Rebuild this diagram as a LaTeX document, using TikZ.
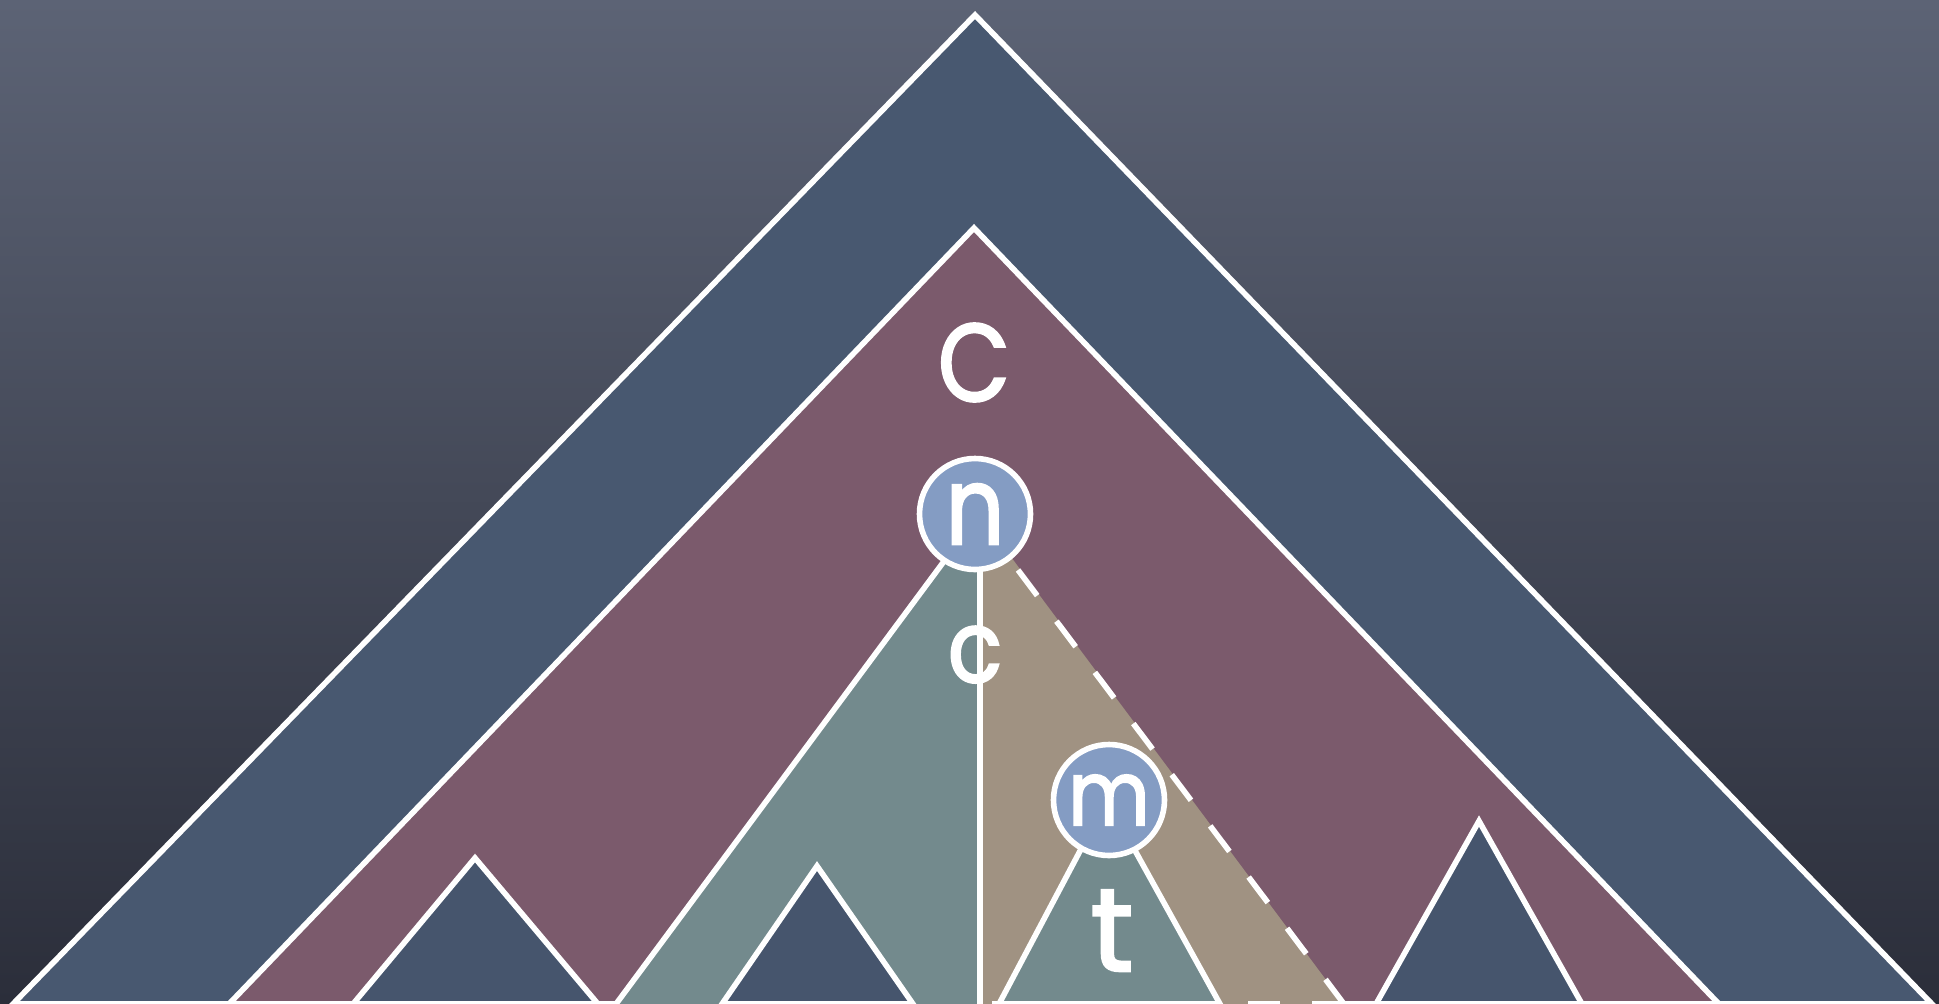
\documentclass[tikz,border=0pt]{standalone}
\usepackage{fontspec}
\setmainfont{Poppins}
\newfontfamily\chalk{Poppins}[FakeBold=2.2]
\definecolor{bgtop}{HTML}{5C6375}
\definecolor{bgmid}{HTML}{4A5062}
\definecolor{bgbot}{HTML}{2B2E3A}
\definecolor{navy}{HTML}{485870}
\definecolor{navysmall}{HTML}{46556D}
\definecolor{maroon}{HTML}{7B5A6C}
\definecolor{tealc}{HTML}{738A8D}
\definecolor{tanc}{HTML}{A09282}
\definecolor{bubble}{HTML}{849CC3}
\begin{document}
\begin{tikzpicture}[x=0.5pt,y=-0.5pt,
  edge/.style={draw=white,line width=2.8pt},
  dashedge/.style={draw=white,line width=2.8pt,dash pattern=on 16pt off 16pt},
  bubblenode/.style={circle,draw=white,line width=2.8pt,fill=bubble,minimum size=55.5pt,inner sep=0pt,text=white},
  lbl/.style={text=white,inner sep=0pt,anchor=base}]
\useasboundingbox (0,0) rectangle (1939,1003);
\clip (0,0) rectangle (1939,1003);
\shade[top color=bgtop,middle color=bgmid,bottom color=bgbot] (0,0) rectangle (1939,1003);
% outer and inner big triangles
\filldraw[edge,fill=navy] (975,15) -- (13,1004) -- (1932,1004) -- cycle;
\filldraw[edge,fill=maroon] (974,228) -- (229,1004) -- (1719,1004) -- cycle;
% small subtrees
\filldraw[edge,fill=navysmall] (475,858) -- (353,1004) -- (598,1004) -- cycle;
\filldraw[edge,fill=navysmall] (1479,821) -- (1376,1004) -- (1582,1004) -- cycle;
% coordinates of the n subtree
\coordinate (napex) at (979,514);
\coordinate (tl) at (616,1004);
\coordinate (vb) at (980,1004);
\coordinate (vt) at (980,514);
\coordinate (dr) at (1344,1004);
\coordinate (mapex) at (1107,800);
% teal and tan regions
\fill[tealc] (napex) -- (tl) -- (vb) -- (vt) -- cycle;
\fill[tanc] (vt) -- (vb) -- (dr) -- (napex) -- cycle;
\filldraw[edge,fill=navysmall] (817,866) -- (722,1004) -- (913,1004) -- cycle;
\draw[edge] (napex) -- (tl);
\draw[edge] (vt) -- (vb);
\draw[dashedge] (1018,570) -- (dr);
\draw[dashedge] (1344,1004) -- (vb);
% m subtree
\filldraw[edge,fill=tealc] (mapex) -- (999,1004) -- (1220,1004) -- cycle;
% bubbles
\node[bubblenode,font=\chalk\fontsize{54}{54}\selectfont] (n) at (975,514) {\scalebox{0.85}[1]{n}};
\node[bubblenode,font=\chalk\fontsize{45}{45}\selectfont] (m) at (1109,800) {\scalebox{0.88}[1]{m}};
% labels
\node[lbl,font=\chalk\fontsize{55}{55}\selectfont] (C) at (974,401) {\scalebox{0.85}[1]{C}};
\node[lbl,font=\chalk\fontsize{50}{50}\selectfont] (c) at (975,682) {\scalebox{0.9}[1]{c}};
\node[lbl,font=\chalk\fontsize{59}{59}\selectfont] (t) at (1112,971) {t};
\end{tikzpicture}
\end{document}
